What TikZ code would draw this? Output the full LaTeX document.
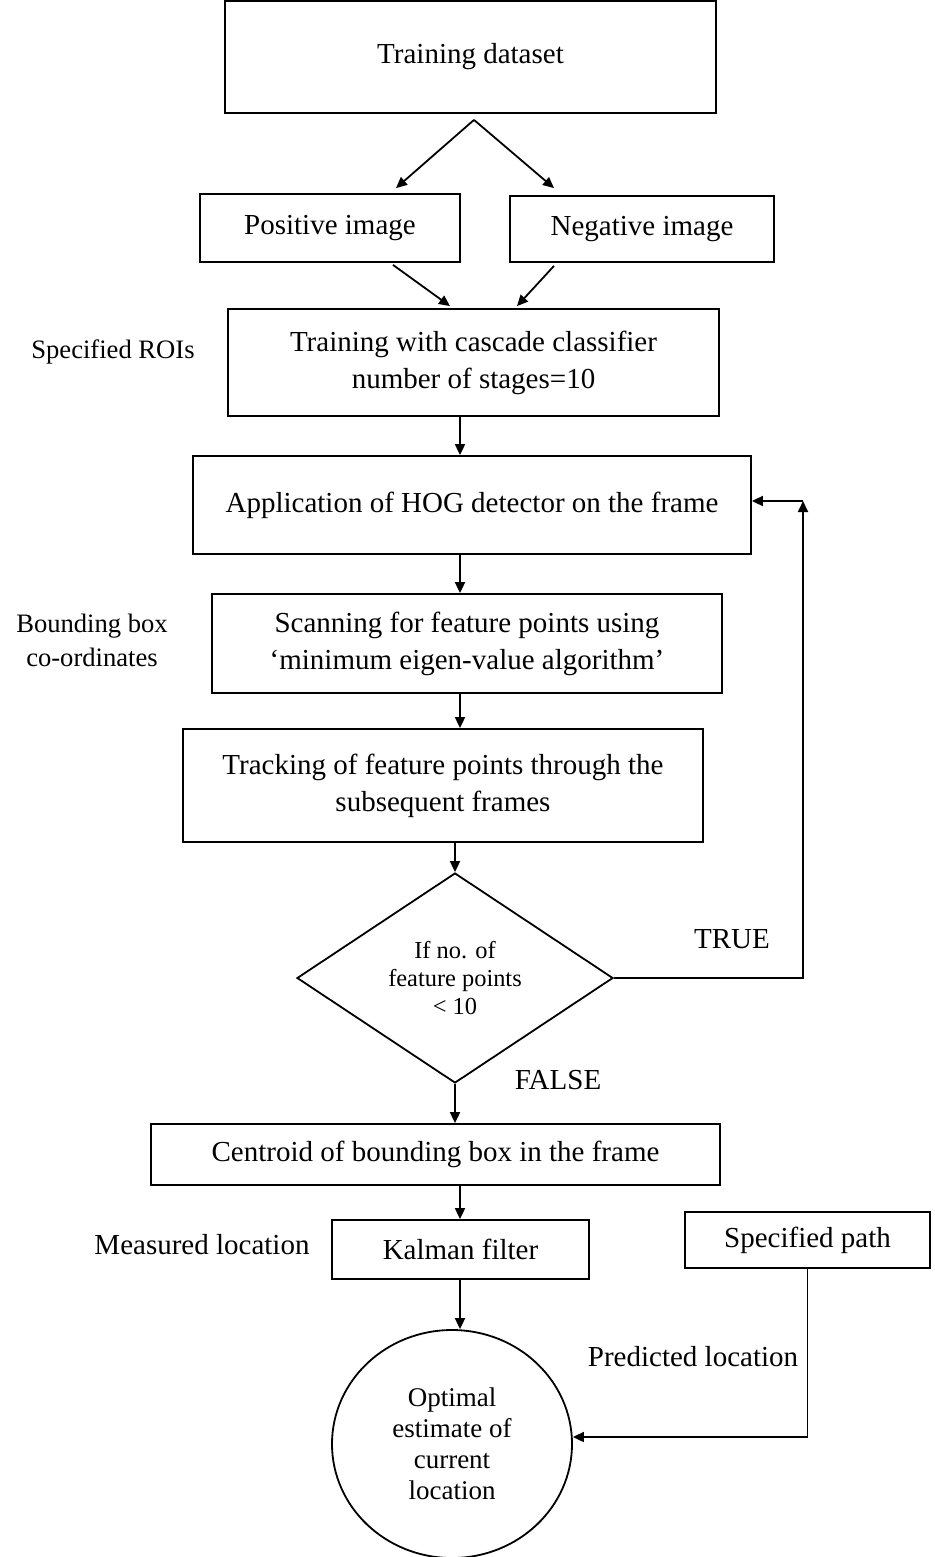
\documentclass[tikz,border=0pt]{standalone}
\usepackage{fontspec}
\setmainfont{Liberation Serif}
\usetikzlibrary{shapes.geometric,arrows.meta}

\begin{document}
\begin{tikzpicture}[x=0.5pt, y=-0.5pt,
  box/.style={draw, line width=0.9pt, inner sep=0pt, align=center, font=\fontsize{14.5}{18.5}\selectfont},
  arr/.style={line width=0.9pt, -{Triangle[length=5.5pt, width=5pt]}},
  side/.style={align=center, font=\fontsize{13.3}{17}\selectfont},
  tag/.style={font=\fontsize{14.5}{18.5}\selectfont}]
  \useasboundingbox (0,0) rectangle (934,1557);

  % Dataset and the two image sets
  \node[box, minimum width=245.5pt, minimum height=56pt] (data) at (470.5,57) {Training dataset};
  \node[box, minimum width=130pt, minimum height=34pt] (pos) at (330,228) {Positive image};
  \node[box, minimum width=132pt, minimum height=33pt] (neg) at (642,229) {Negative image};

  % Training and detection
  \node[box, minimum width=245.5pt, minimum height=53.5pt] (train) at (473.5,362.5) {Training with cascade classifier\\number of stages=10};
  \node[side] (roi) at (113,352) {Specified ROIs};
  \node[box, minimum width=279pt, minimum height=49pt] (hog) at (472,505) {Application of HOG detector on the frame};
  \node[box, minimum width=255pt, minimum height=49.5pt] (scan) at (467,643.5) {Scanning for feature points using\\‘minimum eigen-value algorithm’};
  \node[side] (bbox) at (92,640) {Bounding box\\co-ordinates};
  \node[box, minimum width=260pt, minimum height=56.5pt] (track) at (443,785.5) {Tracking of feature points through the\\subsequent frames};

  % Decision
  \node[draw, diamond, aspect=1.5, minimum width=158pt, minimum height=105pt, inner sep=0pt,
        line width=0.9pt, align=center, font=\fontsize{12.2}{14}\selectfont] (dec) at (455,978) {If no. of\\feature points\\< 10};
  \node[tag] (yes) at (732,939) {TRUE};
  \node[tag] (no) at (558,1080) {FALSE};

  % Estimation
  \node[box, minimum width=284.5pt, minimum height=30.5pt] (cent) at (435.5,1154.5) {Centroid of bounding box in the frame};
  \node[box, minimum width=128.5pt, minimum height=29.5pt] (kal) at (460.5,1249.5) {Kalman filter};
  \node[tag] (meas) at (202,1245) {Measured location};
  \node[box, minimum width=122.5pt, minimum height=28pt] (path) at (807.5,1240) {Specified path};
  \node[tag] (pred) at (693,1357) {Predicted location};
  \node[draw, ellipse, minimum width=120pt, minimum height=114pt, inner sep=0pt, line width=0.9pt,
        align=center, font=\fontsize{13.5}{15.5}\selectfont] (est) at (452,1444) {Optimal\\estimate of\\current\\location};

  % Connectors
  \coordinate (spine) at (460,0);
  \coordinate (split) at ([xshift=1.75pt, yshift=-3pt]data.south);
  \draw[arr] (split) -- ([xshift=33pt, yshift=2.5pt]pos.north);
  \draw[arr] (split) -- ([xshift=-44pt, yshift=3.5pt]neg.north);
  \draw[arr] ([xshift=31.5pt, yshift=-1pt]pos.south) -- ([xshift=-11.75pt, yshift=1pt]train.north);
  \draw[arr] ([xshift=-44pt, yshift=-1.5pt]neg.south) -- ([xshift=21.75pt, yshift=1pt]train.north);
  \draw[arr] (train.south -| spine) -- (hog.north -| spine);
  \draw[arr] (hog.south -| spine) -- (scan.north -| spine);
  \draw[arr] (scan.south -| spine) -- (track.north -| spine);
  \draw[arr] (track.south -| dec.north) -- (dec.north);
  \draw[arr] (dec.south) -- (dec.south |- cent.north);
  \draw[arr] (cent.south -| spine) -- (kal.north -| spine);
  \draw[arr] (kal.south -| spine) -- (est.north -| spine);

  % TRUE loop back to the detector
  \coordinate (loop) at (803,501);
  \draw[arr] (dec.east) -| (loop);
  \draw[arr] (loop) -- (loop -| hog.east);

  % Predicted location into the estimate
  \draw[arr] (path.south) |- ([yshift=3.5pt]est.east);
\end{tikzpicture}
\end{document}
